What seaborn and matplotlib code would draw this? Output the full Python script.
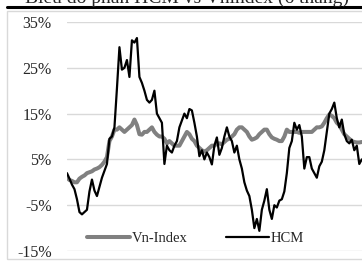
import numpy as np
import pandas as pd
import matplotlib
matplotlib.use("Agg")
import matplotlib.pyplot as plt
import seaborn as sns
from matplotlib.patches import Rectangle

# daily % change vs start of period
hcm = [2.0, 0.8, -0.5, -1.5, -3.7, -6.5, -7.0, -6.5, -6.0, -2.0,
       0.6, -1.8, -3.0, -1.0, 1.0, 2.5, 4.0, 9.5, 10.0, 12.0,
       20.5, 29.5, 24.6, 25.0, 26.7, 23.0, 31.0, 30.5, 31.5, 23.0,
       21.7, 20.0, 18.0, 17.4, 18.0, 20.0, 15.0, 14.0, 13.0, 4.0,
       8.0, 7.0, 6.5, 8.0, 9.0, 12.0, 13.5, 15.0, 14.0, 16.0,
       15.7, 13.0, 10.0, 5.7, 7.0, 5.0, 6.5, 5.5, 3.9, 8.0,
       9.8, 6.0, 7.5, 10.0, 12.0, 10.0, 9.0, 6.5, 8.0, 5.0,
       3.0, 0.0, -1.8, -3.0, -6.0, -10.0, -8.0, -10.6, -6.0, -4.0,
       -1.5, -6.0, -8.0, -5.0, -5.5, -4.0, -3.7, -2.0, 2.0, 7.5,
       9.0, 13.0, 11.5, 12.5, 10.0, 3.0, 5.5, 5.5, 3.0, 2.0,
       1.0, 3.5, 4.5, 7.0, 11.0, 15.0, 16.0, 17.4, 14.0, 12.0,
       13.7, 10.5, 9.0, 8.5, 9.3, 7.0, 8.0, 4.0, 5.0]
vnindex = [1.0, 0.5, 0.3, 0.0, 0.0, 0.8, 1.2, 1.5, 2.0, 2.2,
           2.4, 2.8, 3.0, 3.3, 3.8, 4.5, 5.5, 9.0, 10.0, 11.5,
           11.5, 12.0, 11.5, 11.0, 11.5, 12.0, 12.5, 13.7, 12.5, 10.5,
           10.4, 11.0, 11.0, 11.5, 12.0, 11.0, 10.4, 10.0, 10.0, 9.5,
           8.5, 9.0, 8.5, 8.0, 8.0, 8.0, 9.0, 10.0, 11.0, 10.5,
           9.5, 9.0, 8.0, 7.5, 7.0, 6.7, 7.0, 7.5, 8.0, 8.0,
           8.5, 8.5, 8.3, 8.8, 9.3, 9.5, 10.0, 10.5, 11.5, 12.0,
           12.0, 11.5, 11.0, 10.0, 9.3, 9.5, 9.8, 10.5, 11.0, 11.5,
           11.5, 10.5, 9.8, 9.5, 9.3, 9.0, 9.0, 10.0, 11.5, 11.0,
           11.0, 11.0, 11.0, 10.8, 11.0, 11.0, 11.0, 11.0, 11.0, 11.5,
           12.0, 12.0, 12.2, 13.0, 14.0, 14.8, 14.5, 14.0, 13.0, 12.5,
           11.5, 10.5, 10.0, 9.5, 9.0, 8.8, 8.7, 8.7, 8.8]
y_ticks = [-15, -5, 5, 15, 25, 35]
title = "Biểu đồ phần HCM vs Vnindex (6 tháng)"

df = pd.DataFrame({"day": np.arange(len(hcm)), "Vn-Index": vnindex, "HCM": hcm})

sns.set_style("white")
plt.rcParams["font.family"] = ["Liberation Serif", "DejaVu Serif"]

fig = plt.figure(figsize=(3.62, 2.61), dpi=100)
ax = fig.add_axes([0.185, 0.0383, 0.9, 0.8774])

sns.lineplot(data=df, x="day", y="Vn-Index", color="#808080", linewidth=2.9, ax=ax, label="Vn-Index")
sns.lineplot(data=df, x="day", y="HCM", color="black", linewidth=1.6, ax=ax, label="HCM")

ax.set_ylim(-15, 35)
ax.set_yticks(y_ticks)
ax.set_yticklabels([f"{t}%" for t in y_ticks], fontsize=11.5)
ax.set_xlim(0, len(hcm) - 1 + 12.4)
ax.set_xticks([])
ax.set_xlabel("")
ax.set_ylabel("")
ax.tick_params(axis="y", length=0, pad=11)
ax.yaxis.grid(True, color="#d9d9d9", linewidth=1)
for s in ax.spines.values():
    s.set_visible(False)

leg = ax.legend(loc="lower left", bbox_to_anchor=(0.02, -0.03), ncol=2, frameon=False,
                fontsize=10.5, handlelength=3.0, handletextpad=0.1, columnspacing=2.6)

# outer chart border and cut-off title strip
fig.patches.append(Rectangle((0.019, 0.008), 1.2, 0.95, transform=fig.transFigure,
                             fill=False, edgecolor="#d9d9d9", linewidth=1))
fig.lines.append(plt.Line2D([0.019, 1.0], [0.972, 0.972], transform=fig.transFigure,
                            color="black", linewidth=2.2))
fig.text(0.07, 0.99, title, fontsize=14, ha="left", va="baseline")

fig.savefig("out.png", dpi=100)
